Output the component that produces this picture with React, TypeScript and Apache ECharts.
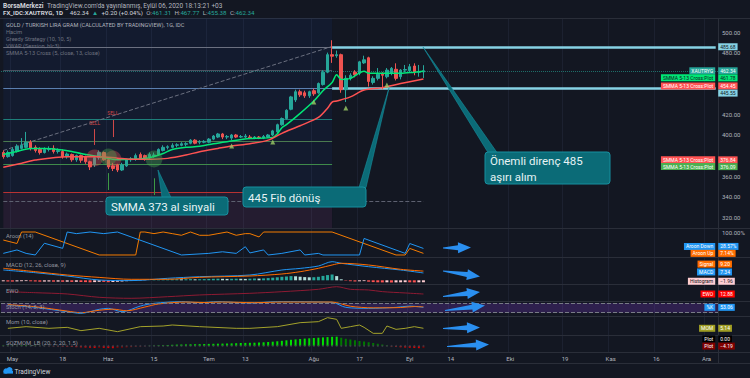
import React, { useEffect, useRef } from "react";
import * as echarts from "echarts";

// ---------------- categories: trading days ----------------
const CATEGORY_COUNT = 157;
function buildTradingDays(count: number): string[] {
  const out: string[] = [];
  const d = new Date(Date.UTC(2020, 3, 29));
  while (out.length < count) {
    const wd = d.getUTCDay();
    if (wd !== 0 && wd !== 6) out.push(d.toISOString().slice(0, 10));
    d.setUTCDate(d.getUTCDate() + 1);
  }
  return out;
}
const DATES = buildTradingDays(CATEGORY_COUNT);
const LAST = CATEGORY_COUNT - 1;

const AXIS_LABELS: Record<string, string> = {
  "2020-05-01": "May", "2020-05-18": "18", "2020-06-01": "Haz", "2020-06-15": "15",
  "2020-07-01": "Tem", "2020-07-13": "13", "2020-08-03": "Ağu", "2020-08-17": "17",
  "2020-09-01": "Eyl", "2020-09-14": "14", "2020-10-01": "Eki", "2020-10-19": "19",
  "2020-11-02": "Kas", "2020-11-16": "16", "2020-12-01": "Ara",
};
const PRICE_TICKS = [320, 340, 360, 400, 420, 480, 500];

// ---------------- candles ----------------
const CANDLE_OPEN = [383,379,380,384,387,388,393,388,386,383, 386,387,384,384,379,381,376,380,379,374, 371,378,383,376,370,371,366,370,376,377, 381,380,378,380,381,385,388,388,390,390, 391,392,395,393,393,393,396,398,401,398, 397,400,398,398,398,397,398,397,398,400, 403,410,416,425,434,442,441,438,443,441, 449,461,478,477,478,444,455,461,460,470, 475,451,455,459,456.6,460,463.8,456.6,463,462.4, 467,461,461.31];
const CANDLE_CLOSE = [379,383,386,389,390,393,387,385,383,386, 386.8,384,384.8,379,381.5,376,380,375.5,374,369, 378,383,376,369,367.5,366,371,376,377,380, 377,377,381,380.6,386,388,388.6,390,390.5,391.5, 391.6,395,392,393.6,393.8,396,399,401,398,398.6, 400,398,398.5,399,397,398,397.5,398.5,400,404, 410,416,424,437,442,439,438,442,440,450, 461,478,476.5,478,444,455,458,458.5,471,473, 452,455,459,458,463,464.7,455,463,463.6,466.3, 461,461.5,462.34];
const CANDLE_HIGH = [385,385,388,391,397,403,395,390,388,388, 389,390,387,386,383,382,381,381,380,375, 379,385,384,377,373,372,373,377,378.5,382, 383,381,383,383,387,390,390,392,392,393, 393,396,396,395,395,397,400,402,402,400, 401,401,400,401,400,399,399,400,401,405, 411,417,425,438,444,444,443,443,445,451, 463,480,492,482,479,458,460,463,472,477, 476,457,465,461,465,466,469.6,464,468,469, 469.6,468,467.77];
const CANDLE_LOW = [377,378,379,383,386,387,385,383,381,382, 384,382,382,377,377,374,374,373,372,366, 369,376,375,367,365,364,365,369,374,375, 376,375,376,378,380,384,386,387,388,389, 389,391,391,391,392,392,395,397,396,396, 395,397,397,397,396,396,396,396,397,399, 402,409,415,424,432,437,436,436,438,440, 448,460,470,475,441,432,453,456,458,469, 447,449,453,444,455,458,453,454,461,461, 458,456.6,455.38];

// SMMA lines, read at [bar index, price]
const SMMA_FAST: [number, number][] = [[0,381],[3,384],[6,387],[9,387],[12,386],[15,384],[17,382],[21,379],[25,376],[28,376.4],[32,378],[35,382],[37,386],[40,388],[43,389],[46,391.5],[49,393.5],[54,396.5],[59,397.7],[60,401],[61,407],[62,410],[65,421],[68,433],[70,443],[72,451],[73,458.5],[74,454],[76,455],[79,462],[80,460],[83,460],[87,460],[90,461],[92,461.78]];
const SMMA_SLOW: [number, number][] = [[0,368.6],[4,372.5],[7,375.7],[14,379],[21,379],[25,377.5],[28,376.4],[32,376.5],[36,377.3],[40,380.5],[43,383.8],[47,387],[50,389.3],[54,391.5],[58,395],[61,401.6],[65,409],[69,417],[71,426],[72,432],[73,433],[76,437],[79,443.7],[83,446],[87,450],[92,454.45]];
const CROSS_MARKS: [number, number][] = [[50,389.3],[59,393.2],[68,432],[75,426.2],[84,448.5]];
const SELL_CIRCLES: [number, number][] = [[20,377.7],[24,376.7]];
const BUY_CIRCLES: [number, number][] = [[23,378.6],[33,376.7]];
const SELL_SIGNALS: [number, number, number][] = [[20,390.3,405.8],[24,398,414.6]];
const BUY_SIGNALS: [number, number, number][] = [[23,363,346.6],[33,358,341.7]];

// drawing levels
const FIB_LEVELS = [485.68, 463.1, 445.55, 415.5, 394.2, 371.8, 344.7];
const FIB_BASE = 335.9;
const FIB_END_BAR = 72;
const TREND_START: [number, number] = [0, 385];
const TREND_END: [number, number] = [72, 486];
const RESISTANCE = 485.68;
const SUPPORT = 445.55;
const LAST_CLOSE = 462.34;
const SMMA_FAST_LAST = 461.78;
const SMMA_SLOW_LAST = 454.45;
const CROSS_PLOT_A = 376.84;
const CROSS_PLOT_B = 376.09;

// ---------------- indicators ----------------
const AROON_UP: [number, number][] = [[0,65],[3,50],[4,100],[7,100],[21,0],[29,0],[30,100],[31,100],[33,92.9],[35,100],[37,92.9],[39,85.7],[41,100],[43,85.7],[45,85.7],[47,92.9],[49,100],[51,85.7],[53,92.9],[54,92.9],[56,78.6],[57,100],[72,100],[86,0],[88,0],[89,28.57],[92,7.14]];
const AROON_DOWN: [number, number][] = [[0,7],[3,22],[5,7],[7,0],[9,51],[13,29],[14,100],[16,92.9],[19,100],[22,92.9],[25,100],[39,0],[45,7],[48,14],[51,7],[53,36],[54,9],[57,22],[58,0],[61,7],[65,22],[66,0],[69,7],[70,0],[78,0],[79,72],[88,7],[89,50],[92,28.57]];
const MACD_LINE: [number, number][] = [[0,10.3],[7,7.6],[14,4.3],[21,0.3],[28,-0.3],[36,2],[43,3.6],[54,5.3],[61,10.3],[65,11.9],[69,14.3],[72,18.6],[74,17],[80,13.6],[87,10.3],[92,7.34]];
const SIGNAL_LINE: [number, number][] = [[0,12],[7,8.6],[14,5.3],[21,2.9],[28,1],[36,1],[43,3],[54,4.3],[61,6.3],[65,8.6],[69,12],[72,15.3],[74,17],[80,15.3],[87,11],[92,9.2]];
const MACD_HIST = [-1.0,-1.2,-1.3,-1.1,-0.9,-0.8,-1.0,-1.2,-1.4,-1.3, -1.2,-1.4,-1.3,-1.5,-1.4,-1.6,-1.5,-1.7,-1.8,-2.0, -1.8,-1.5,-1.6,-1.9,-1.7,-1.5,-1.2,-0.9,-0.6,-0.4, -0.3,-0.2,0.1,0.3,0.5,0.7,0.9,1.0,1.1,1.0, 1.1,1.2,1.0,1.1,1.2,1.4,1.5,1.6,1.5,1.4, 1.5,1.6,1.5,1.4,1.6,1.8,1.7,1.9,2.2,2.6, 3.0,3.5,3.8,4.2,4.0,3.6,3.2,3.0,3.1,3.5, 4.4,5.2,5.8,4.2,1.0,-0.4,-0.9,-1.2,-1.0,-0.8, -1.4,-1.8,-2.0,-2.1,-2.0,-2.2,-2.1,-2.0,-1.9,-2.0,-2.1,-2.0,-1.96];
const EWO: [number, number][] = [[1,19.8],[7,16.8],[14,13],[21,3],[28,0],[36,4.8],[43,10],[54,15],[61,19.8],[69,27],[73,34.8],[76,27],[80,25],[83,20],[88,16],[92,12.88]];
const STOCH_K: [number, number][] = [[1,67.6],[7,53],[14,26],[17,16],[21,41],[23,47],[26,26],[30,61],[33,78],[39,88],[43,82],[47,88],[54,80],[60,88],[72,84],[75,53],[80,47],[86,53],[89,61],[92,53.06]];
const STOCH_D: [number, number][] = [[1,70],[7,57],[14,30],[17,20],[21,35],[24,42],[27,32],[31,55],[34,74],[40,86],[44,83],[48,86],[55,82],[61,86],[72,86],[76,60],[81,50],[87,52],[90,58],[92,56]];
const MOM: [number, number][] = [[1,5],[5,10],[10,5],[14,8],[17,-2],[21,5],[25,-5],[30,10],[35,12],[37,15],[43,10],[51,5],[54,5],[60,10],[65,22],[69,25],[71,37],[73,32],[74,5],[76,10],[78,15],[79,8],[81,-10],[83,-10],[84,12],[86,2],[88,5],[90,10],[92,5.14]];
const SQZ_HIST = [1.5,1.2,1.0,0.8,1.2,1.5,1.3,1.0,0.6,0.3,-0.2,-0.5,-0.8, -1.2,-1.6,-2.0,-2.4,-2.8,-3.2,-3.6,-4.0,-3.8,-3.9,-4.2,-4.4,-4.0,-3.6,-3.0,-2.4,-1.8,-1.2,-0.6, 0.4,0.8,1.2,1.6,2.0,2.4,2.8,3.0,3.2,3.4,3.6,3.8,4.0,4.2,4.4,4.6,4.8,5.0,5.2,5.6,6.0,6.2,6.4,6.6,7.0,7.4,8.0,8.6, 9.4,10.4,11.4,12.4,13.2,14.0,14.8,15.4,16.0,16.6,17.2,17.8,18.4,18.6, 16.5,14.5,13.0,11.5,10.0,9.0,7.5,6.0,4.5,3.0,1.5, -0.8,-1.8,-2.6,-3.2,-3.6,-4.0,-4.4,-4.19];

const AROON_DOWN_LAST = 28.57, AROON_UP_LAST = 7.14;
const SIGNAL_LAST = 9.2, MACD_LAST = 7.34, HIST_LAST = -1.96;
const EWO_LAST = 12.88, K_LAST = 53.06, MOM_LAST = 5.14;
const SQZ_PLOT_A = 0, SQZ_PLOT_B = -4.19;

// ---------------- layout ----------------
const FONT = "Roboto";
const PANES = [
  { top: 18, height: 210, min: 309.7, max: 513.6 },
  { top: 228, height: 29, min: -8.7, max: 117.4 },
  { top: 257, height: 27, min: -3.7, max: 23.3 },
  { top: 284, height: 17, min: -8.1, max: 42.9 },
  { top: 301, height: 15, min: -0.4, max: 92.4 },
  { top: 316, height: 19, min: -15, max: 42 },
  { top: 335, height: 17, min: -12, max: 22 },
];
const SEPARATORS = [18, 228, 257, 284, 301, 316, 335, 352, 363];

function badge(value: number, name: string | null, text: string, bg: string, fg: string, dy = 0) {
  const base: any = { coord: [LAST, value], symbol: "rect", symbolSize: 1, itemStyle: { color: "rgba(0,0,0,0)" } };
  const lab = (pos: string, txt: string, dist: number) => ({
    show: true, position: pos, distance: dist, formatter: txt, backgroundColor: bg, color: fg,
    fontSize: 5, fontFamily: FONT, padding: [1, 2, 1, 2], lineHeight: 5, offset: [0, dy],
  });
  const items: any[] = [{ ...base, label: lab("right", text, 2) }];
  if (name) items.push({ ...base, label: lab("left", name, 0) });
  return items;
}

function arrow(x1: number, y1: number, x2: number, y2: number) {
  const dx = x2 - x1, dy = y2 - y1;
  const len = Math.sqrt(dx * dx + dy * dy);
  const ux = dx / len, uy = dy / len, nx = -uy, ny = ux;
  const hl = 13, hw = 5.5;
  const bx = x2 - ux * hl, by = y2 - uy * hl;
  const p = (x: number, y: number, w: number) => [x + nx * w, y + ny * w];
  return {
    type: "polygon", z: 120,
    shape: { points: [p(x1, y1, 0.5), p(bx, by, 2.5), p(bx, by, hw), [x2, y2], p(bx, by, -hw), p(bx, by, -2.5), p(x1, y1, -0.5)] },
    style: { fill: "#2a8ff0" },
  };
}

function callout(x: number, y: number, w: number, h: number, lines: string[], tip: number[], b1: number, b2: number) {
  const fill = "#0b6b77";
  const els: any[] = [
    { type: "polygon", z: 110, shape: { points: [tip, [b1, y + 0.5], [b2, y + 0.5]] }, style: { fill, stroke: "#17909f", lineWidth: 0.6 } },
    { type: "rect", z: 111, shape: { x, y, width: w, height: h, r: 3 }, style: { fill, stroke: "#17909f", lineWidth: 1 } },
  ];
  lines.forEach((t, k) => {
    els.push({ type: "text", z: 112, x: x + 5, y: y + (h / lines.length) * (k + 0.5) + 0.5, style: { text: t, fill: "#e6f3f5", fontSize: 11.5, fontFamily: FONT, verticalAlign: "middle" } });
  });
  return els;
}

function buildOption(): any {
  const grids = PANES.map((p) => ({ left: 1, right: 32, top: p.top, height: p.height }));
  const xAxes = PANES.map((p, k) => ({
    type: "category", gridIndex: k, data: DATES, boundaryGap: true,
    axisLine: { show: false }, axisTick: { show: false },
    axisLabel: k === PANES.length - 1
      ? { show: true, interval: (i: number, v: string) => !!AXIS_LABELS[v], formatter: (v: string) => AXIS_LABELS[v] || "", color: "#b2b5be", fontSize: 6, fontFamily: FONT, margin: 3 }
      : { show: false },
    splitLine: { show: true, interval: (i: number, v: string) => !!AXIS_LABELS[v], lineStyle: { color: "#1c2130", width: 1 } },
  }));
  const yLabel = (values: number[], fmt: (v: number) => string) => ({ show: true, customValues: values, formatter: fmt, color: "#b2b5be", fontSize: 6, fontFamily: FONT, margin: 4 });
  const yAxes = PANES.map((p, k) => ({
    type: "value", gridIndex: k, min: p.min, max: p.max, position: "right",
    axisLine: { show: false }, axisTick: { show: false }, splitLine: { show: false },
    axisLabel: k === 0 ? yLabel(PRICE_TICKS, (v) => v.toFixed(2))
      : k === 1 ? yLabel([100], () => "100.00%")
      : { show: false },
  }));

  const FIB_COLORS = ["#6b7080", "#4a5060", "#5b7fb0", "#1e7f7a", "#4a7a4f", "#3f8a4a", "#b83232"];
  const fibLines = FIB_LEVELS.map((v, k) => [
    { coord: [0, v], lineStyle: { color: FIB_COLORS[k], width: 1, type: "solid" } },
    { coord: [FIB_END_BAR, v] },
  ]);
  const signalLines = [
    ...SELL_SIGNALS.map(([i, a, b]) => [
      { coord: [i, a], lineStyle: { color: "#d04848", width: 1, type: "solid" }, label: { show: true, formatter: "SELL", position: "end", distance: 4, color: "#d04848", fontSize: 5, fontFamily: FONT } },
      { coord: [i, b] },
    ]),
    ...BUY_SIGNALS.map(([i, a, b]) => [
      { coord: [i, a], lineStyle: { color: "#3d9a45", width: 1, type: "solid" } },
      { coord: [i, b] },
    ]),
  ];

  const macdColors = MACD_HIST.map((v, i) => {
    const prev = i > 0 ? MACD_HIST[i - 1] : v;
    return v >= 0 ? (v >= prev ? "#26a69a" : "#b2dfdb") : (v < prev ? "#ff5252" : "#ffcdd2");
  });
  const sqzColors = SQZ_HIST.map((v, i) => {
    const prev = i > 0 ? SQZ_HIST[i - 1] : v;
    return v > 0 ? (v > prev ? "#00e000" : "#007a00") : (v < prev ? "#e00000" : "#7a0000");
  });

  const series: any[] = [
    {
      type: "candlestick", name: "XAUTRYG", xAxisIndex: 0, yAxisIndex: 0, z: 5,
      data: CANDLE_OPEN.map((o, i) => [o, CANDLE_CLOSE[i], CANDLE_LOW[i], CANDLE_HIGH[i]]),
      barWidth: 3,
      itemStyle: { color: "#26a69a", color0: "#ef5350", borderColor: "#26a69a", borderColor0: "#ef5350", borderWidth: 1 },
      markArea: {
        silent: true,
        data: [
          [{ coord: [0, PANES[0].max], itemStyle: { color: "rgba(41,98,255,0.06)" } }, { coord: [FIB_END_BAR, PANES[0].min] }],
          [{ coord: [0, FIB_LEVELS[6]], itemStyle: { color: "rgba(242,54,69,0.08)" } }, { coord: [FIB_END_BAR, PANES[0].min] }],
        ],
      },
      markLine: {
        silent: true, symbol: ["none", "none"], label: { show: false },
        data: [
          ...fibLines,
          [{ coord: [0, FIB_BASE], lineStyle: { color: "#5d6170", width: 1, type: "dashed" } }, { coord: [92, FIB_BASE] }],
          [{ coord: TREND_START, lineStyle: { color: "#6b7080", width: 1, type: "dashed" } }, { coord: TREND_END }],
          [{ coord: [FIB_END_BAR, RESISTANCE], lineStyle: { color: "#86d2e4", width: 2.5, type: "solid" } }, { coord: [LAST, RESISTANCE] }],
          [{ coord: [FIB_END_BAR, SUPPORT], lineStyle: { color: "#86d2e4", width: 2.5, type: "solid" } }, { coord: [LAST, SUPPORT] }],
          { yAxis: LAST_CLOSE, lineStyle: { color: "#26a69a", width: 1, type: "dotted", opacity: 0.6 } },
          ...signalLines,
        ],
      },
      markPoint: {
        silent: true,
        data: [
          ...badge(RESISTANCE, null, "485.68", "#86d2e4", "#131722"),
          ...badge(LAST_CLOSE, "XAUTRYG", "462.34", "#26a69a", "#ffffff"),
          ...badge(SMMA_FAST_LAST, "SMMA 5-13 Cross:Plot", "461.78", "#00e676", "#131722", 6.5),
          ...badge(SMMA_SLOW_LAST, "SMMA 5-13 Cross:Plot", "454.45", "#ff5252", "#ffffff", 7),
          ...badge(SUPPORT, null, "445.55", "#86d2e4", "#131722", 5),
          ...badge(CROSS_PLOT_A, "SMMA 5-13 Cross:Plot", "376.84", "#ff5252", "#ffffff", 1),
          ...badge(CROSS_PLOT_B, "SMMA 5-13 Cross:Plot", "376.09", "#4caf50", "#ffffff", 7),
        ],
      },
    },
    { type: "line", name: "SMMA 5", xAxisIndex: 0, yAxisIndex: 0, data: SMMA_FAST, showSymbol: false, smooth: 0.3, lineStyle: { color: "#00e676", width: 1.5 }, z: 6 },
    { type: "line", name: "SMMA 13", xAxisIndex: 0, yAxisIndex: 0, data: SMMA_SLOW, showSymbol: false, smooth: 0.3, lineStyle: { color: "#ff5252", width: 1.5 }, z: 6 },
    { type: "scatter", xAxisIndex: 0, yAxisIndex: 0, data: CROSS_MARKS, symbol: "triangle", symbolSize: 5, itemStyle: { color: "#9ccc65" }, z: 7 },
    { type: "scatter", xAxisIndex: 0, yAxisIndex: 0, data: SELL_CIRCLES, symbolSize: 17, itemStyle: { color: "rgba(239,83,80,0.45)" }, z: 8 },
    { type: "scatter", xAxisIndex: 0, yAxisIndex: 0, data: BUY_CIRCLES, symbolSize: 17, itemStyle: { color: "rgba(76,175,80,0.45)" }, z: 8 },

    // Aroon
    { type: "line", xAxisIndex: 1, yAxisIndex: 1, data: AROON_UP, showSymbol: false, lineStyle: { color: "#f57c00", width: 1 },
      markPoint: { silent: true, data: [...badge(AROON_DOWN_LAST, "Aroon Down", "28.57%", "#2196f3", "#ffffff", -2), ...badge(AROON_UP_LAST, "Aroon Up", "7.14%", "#ff6d00", "#ffffff")] } },
    { type: "line", xAxisIndex: 1, yAxisIndex: 1, data: AROON_DOWN, showSymbol: false, lineStyle: { color: "#2196f3", width: 1 } },

    // MACD
    { type: "bar", xAxisIndex: 2, yAxisIndex: 2, barWidth: 3, data: MACD_HIST.map((v, i) => ({ value: v, itemStyle: { color: macdColors[i] } })) },
    { type: "line", xAxisIndex: 2, yAxisIndex: 2, data: MACD_LINE, showSymbol: false, smooth: 0.3, lineStyle: { color: "#2196f3", width: 1 },
      markPoint: { silent: true, data: [...badge(SIGNAL_LAST, "Signal", "9.20", "#ff6d00", "#ffffff", -7), ...badge(MACD_LAST, "MACD", "7.34", "#2196f3", "#ffffff", -1), ...badge(HIST_LAST, "Histogram", "−1.96", "#ffcdd2", "#131722", -1)] } },
    { type: "line", xAxisIndex: 2, yAxisIndex: 2, data: SIGNAL_LINE, showSymbol: false, smooth: 0.3, lineStyle: { color: "#ff6d00", width: 1 } },

    // EWO
    { type: "line", xAxisIndex: 3, yAxisIndex: 3, data: EWO, showSymbol: false, smooth: 0.3, lineStyle: { color: "#8e1b33", width: 1 },
      markPoint: { silent: true, data: [...badge(EWO_LAST, "EWO", "12.88", "#ff0000", "#ffffff")] } },

    // Stoch
    { type: "line", xAxisIndex: 4, yAxisIndex: 4, data: STOCH_K, showSymbol: false, smooth: 0.3, lineStyle: { color: "#2196f3", width: 1 },
      markArea: { silent: true, data: [[{ yAxis: 20, itemStyle: { color: "rgba(126,60,210,0.25)" } }, { yAxis: 80 }]] },
      markLine: { silent: true, symbol: ["none", "none"], label: { show: false }, data: [{ yAxis: 80, lineStyle: { color: "#787b86", type: "dashed", width: 1 } }, { yAxis: 20, lineStyle: { color: "#787b86", type: "dashed", width: 1 } }] },
      markPoint: { silent: true, data: [...badge(K_LAST, "%K", "53.06", "#2196f3", "#ffffff")] } },
    { type: "line", xAxisIndex: 4, yAxisIndex: 4, data: STOCH_D, showSymbol: false, smooth: 0.3, lineStyle: { color: "#ff6d00", width: 1 } },

    // Mom
    { type: "line", xAxisIndex: 5, yAxisIndex: 5, data: MOM, showSymbol: false, lineStyle: { color: "#a4a32b", width: 1 },
      markPoint: { silent: true, data: [...badge(MOM_LAST, "MOM", "5.14", "#9e9d24", "#ffffff")] } },

    // SQZMOM
    { type: "bar", xAxisIndex: 6, yAxisIndex: 6, barWidth: 2, data: SQZ_HIST.map((v, i) => ({ value: v, itemStyle: { color: sqzColors[i] } })),
      markPoint: { silent: true, data: [...badge(SQZ_PLOT_A, "Plot", "0.00", "#000000", "#ffffff", -7), ...badge(SQZ_PLOT_B, "Plot", "−4.19", "#800000", "#ffffff", -2)] } },
    { type: "scatter", xAxisIndex: 6, yAxisIndex: 6, data: SQZ_HIST.map((_, i) => [i, 0]), symbolSize: 2, itemStyle: { color: "#3c3f48" }, z: 4 },
  ];

  const txt = (x: number, y: number, text: string, fill: string, size: number, extra: any = {}) => ({
    type: "text", z: 50, x, y, style: { text, fill, fontSize: size, fontFamily: FONT, verticalAlign: "middle", ...extra },
  });

  const graphic: any[] = [
    ...SEPARATORS.map((y) => ({ type: "line", z: 1, shape: { x1: 0, y1: y + 0.5, x2: 750, y2: y + 0.5 }, style: { stroke: "#2a2e39", lineWidth: 1 } })),
    { type: "line", z: 1, shape: { x1: 718.5, y1: 18, x2: 718.5, y2: 363 }, style: { stroke: "#2a2e39", lineWidth: 1 } },
    {
      type: "text", z: 50, x: 3, y: 5.5,
      style: {
        text: "{b|BorsaMerkezi} {n|TradingView.com'da yayınlanmış, Eylül 06, 2020 18:13:21 +03}", verticalAlign: "middle",
        rich: { b: { fill: "#d1d4dc", color: "#d1d4dc", fontWeight: "bold", fontSize: 6.5, fontFamily: FONT }, n: { fill: "#b2b5be", color: "#b2b5be", fontSize: 6.5, fontFamily: FONT } },
      },
    },
    {
      type: "text", z: 50, x: 3, y: 12.5,
      style: {
        text: "{s|FX_IDC:XAUTRYG, 1D}  {w|462.34} {g|▲} {w|+0.20 (+0.04%)} {n|O:}{g|461.31} {n|H:}{g|467.77} {n|L:}{g|455.38} {n|C:}{g|462.34}", verticalAlign: "middle",
        rich: {
          s: { fill: "#d1d4dc", color: "#d1d4dc", fontWeight: "bold", fontSize: 6.2, fontFamily: FONT },
          w: { fill: "#d1d4dc", color: "#d1d4dc", fontSize: 6.2, fontFamily: FONT },
          g: { fill: "#26a69a", color: "#26a69a", fontSize: 6.2, fontFamily: FONT },
          n: { fill: "#b2b5be", color: "#b2b5be", fontSize: 6.2, fontFamily: FONT },
        },
      },
    },
    txt(6, 25, "GOLD / TURKISH LIRA GRAM (CALCULATED BY TRADINGVIEW), 1G, IDC", "#b2b5be", 5.6),
    txt(6, 32.3, "Hacim", "#6f7380", 5.6),
    txt(6, 39.3, "Greedy Strategy (10, 10, 5)", "#6f7380", 5.6),
    txt(6, 46, "VWAP (Session, hlc3)", "#6f7380", 5.6),
    txt(6, 53.3, "SMMA 5-13 Cross (5, close, 13, close)", "#6f7380", 5.6),
    txt(6, 235.5, "Aroon (14)", "#9598a1", 5.8),
    txt(6, 265, "MACD (12, 26, close, 9)", "#9598a1", 5.8),
    txt(6, 291, "EWO", "#9598a1", 5.8),
    txt(6, 307, "Stoch (14, 3, 3)", "#9598a1", 5.8),
    txt(6, 322, "Mom (10, close)", "#9598a1", 5.8),
    txt(6, 342.5, "SQZMOM_LB (20, 2, 20, 1.5)", "#9598a1", 5.8),
    ...callout(106, 197, 122, 18, ["SMMA 373 al sinyali"], [158, 170], 162, 171),
    ...callout(243, 187, 123, 20, ["445 Fib dönüş"], [389, 88], 359, 366),
    ...callout(485, 152, 125, 32, ["Önemli direnç 485", "aşırı alım"], [423, 47], 488, 497),
    arrow(443, 248, 471, 247.5),
    arrow(443, 271, 480, 276.5),
    arrow(443, 296.5, 480, 292),
    arrow(445, 310.5, 485, 305.5),
    arrow(443, 328.5, 480, 327.5),
    arrow(447, 346.5, 489, 344.5),
    { type: "circle", z: 50, shape: { cx: 6, cy: 371, r: 2.6 }, style: { fill: "#2196f3" } },
    { type: "circle", z: 50, shape: { cx: 9.5, cy: 370, r: 3 }, style: { fill: "#2196f3" } },
    { type: "rect", z: 50, shape: { x: 3.5, y: 371, width: 9.5, height: 2.6 }, style: { fill: "#2196f3" } },
    txt(14.5, 371.5, "TradingView", "#d1d4dc", 6.5),
  ];

  return {
    animation: false,
    backgroundColor: "#131722",
    grid: grids,
    xAxis: xAxes,
    yAxis: yAxes,
    series,
    graphic,
  };
}

export default function App() {
  const ref = useRef<HTMLDivElement>(null);
  useEffect(() => {
    if (!ref.current) return;
    const chart = echarts.init(ref.current, undefined, { renderer: "svg", width: 750, height: 378 });
    chart.setOption(buildOption());
    return () => chart.dispose();
  }, []);
  return <div ref={ref} style={{ position: "fixed", left: 0, top: 0, width: 750, height: 378, background: "#131722" }} />;
}
